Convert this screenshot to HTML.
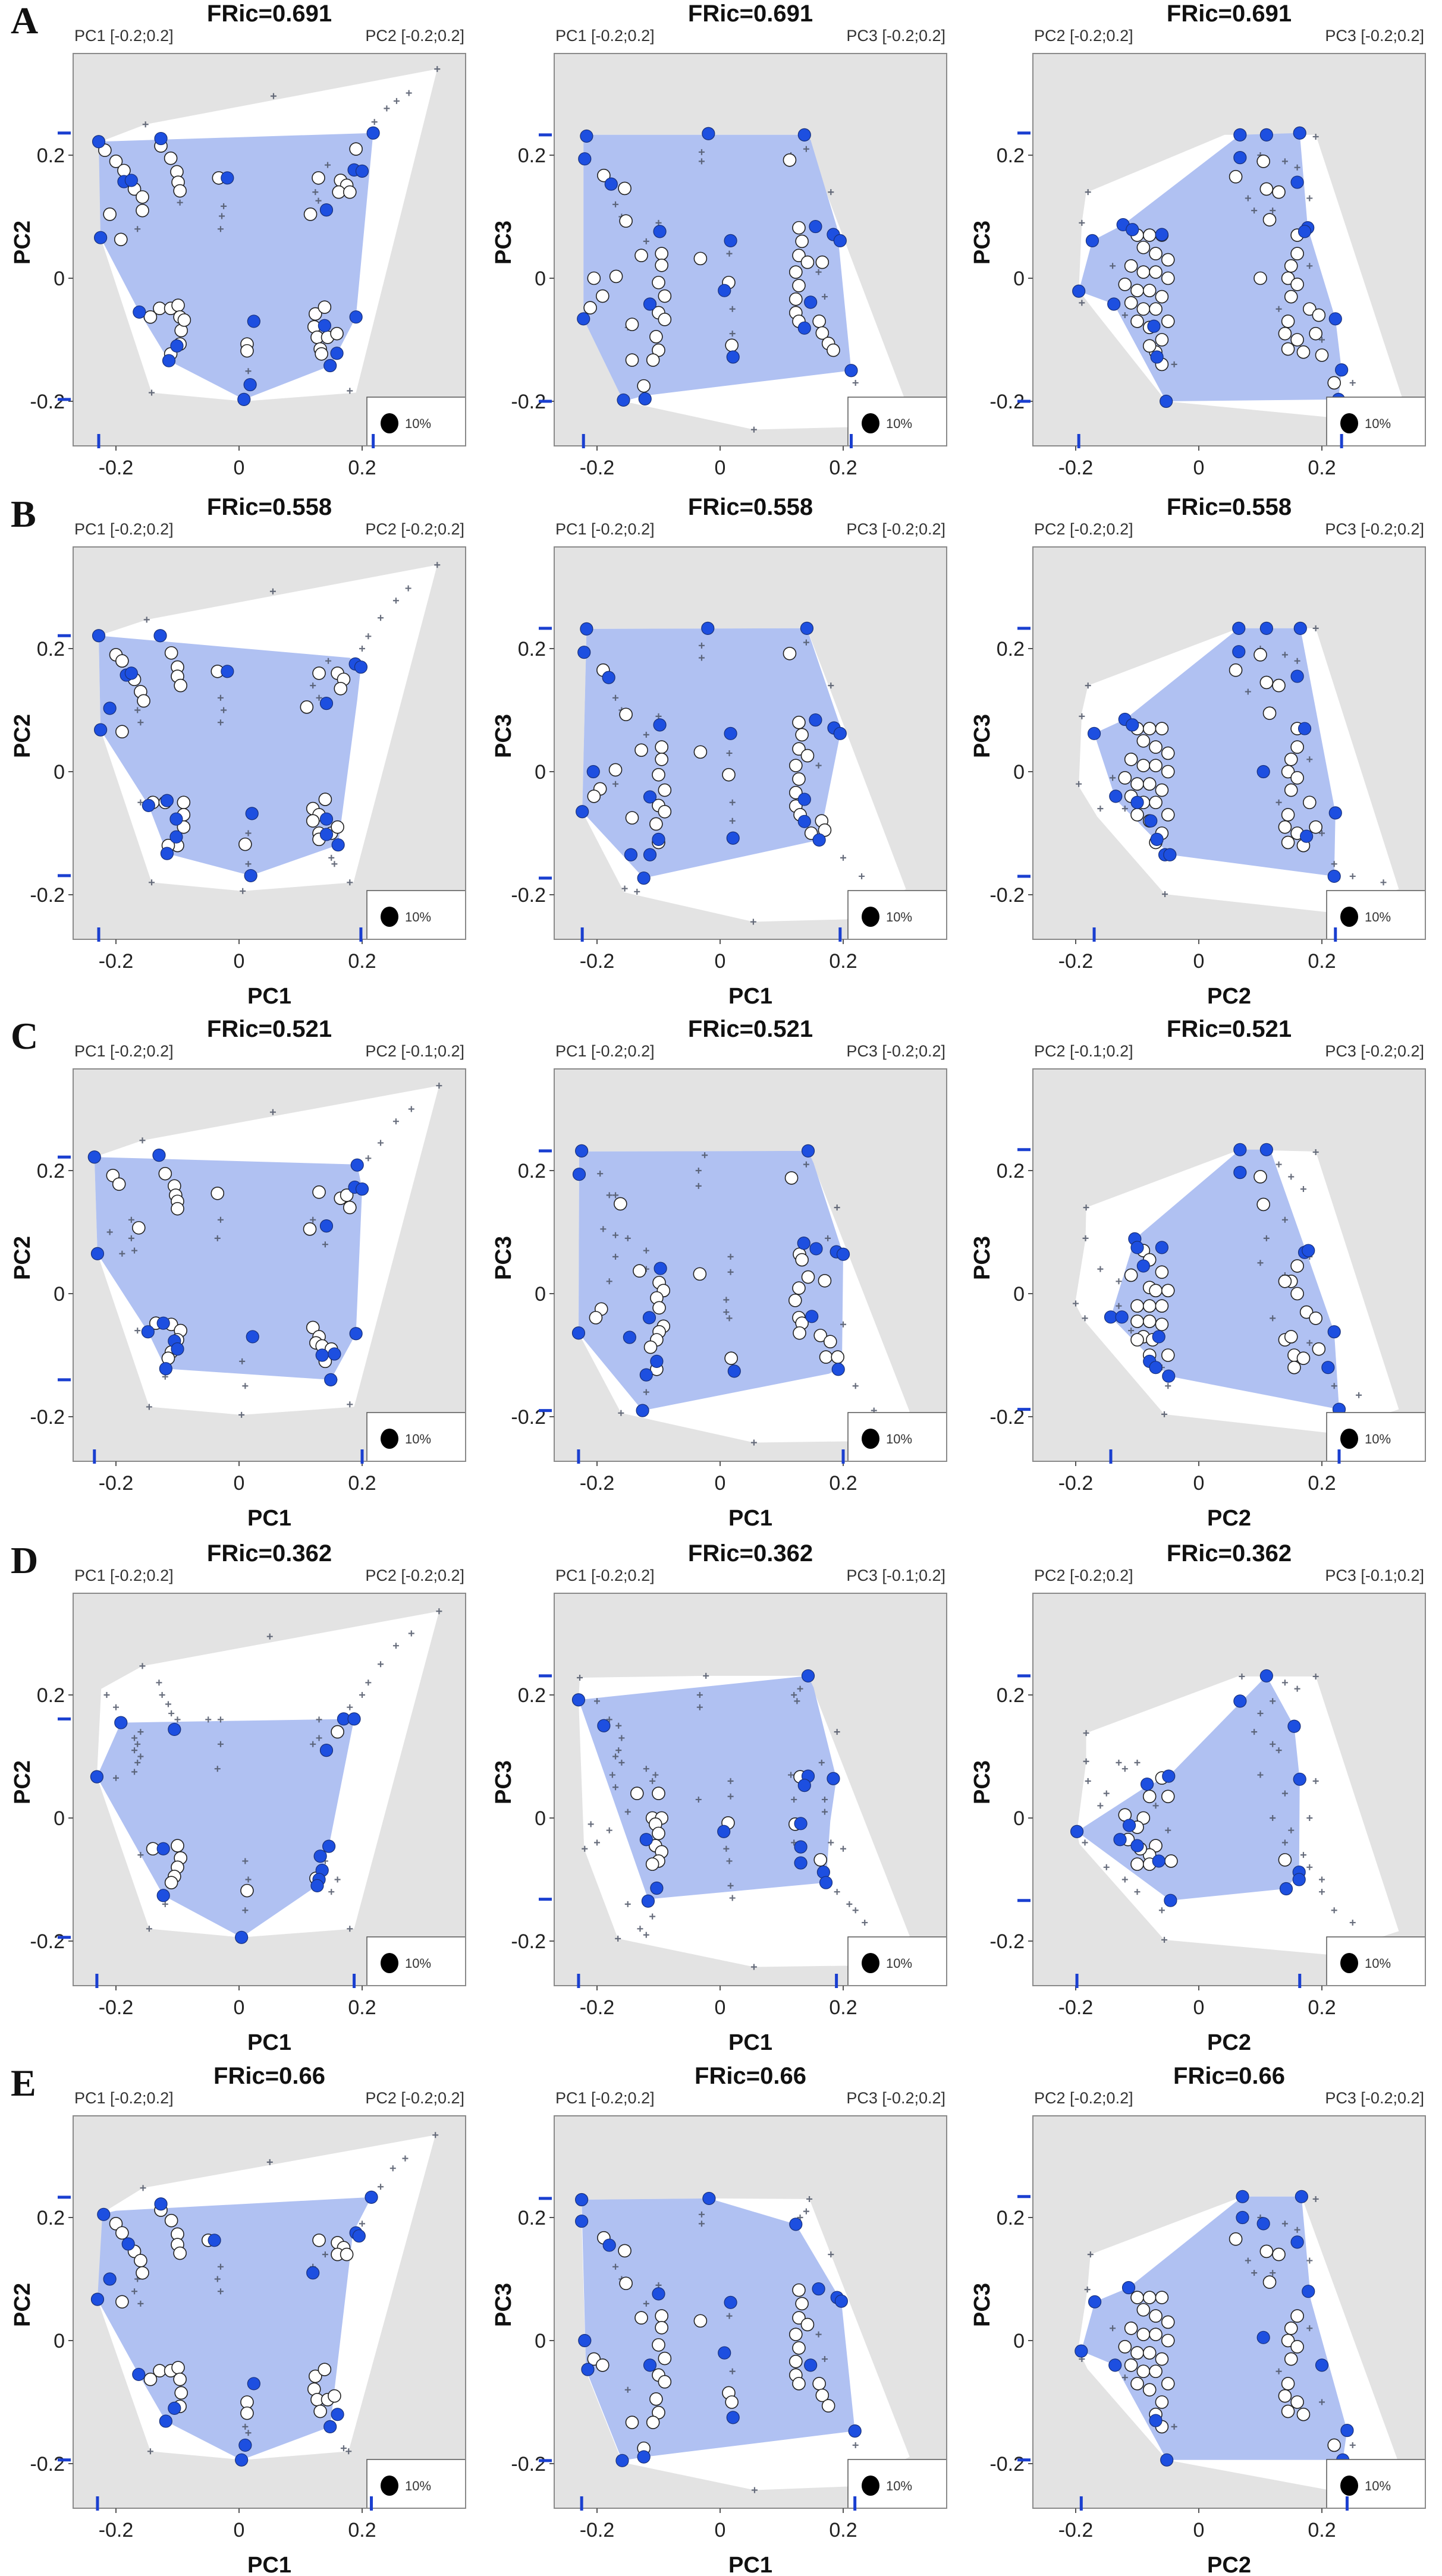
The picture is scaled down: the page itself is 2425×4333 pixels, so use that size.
<!DOCTYPE html>
<html><head><meta charset="utf-8"><title>FRic panels</title>
<style>
html,body{margin:0;padding:0;background:#fff;}
svg{display:block;}
text{font-family:"Liberation Sans",Arial,sans-serif;}
</style></head>
<body>
<svg id="fig" xmlns="http://www.w3.org/2000/svg" width="2425" height="4333" viewBox="0 0 2425 4333"></svg>
<script>
// ---------- DATA (PC coordinates) ----------
const rowLetters = ["A","B","C","D","E"];
const fricValues = ["0.691","0.558","0.521","0.362","0.66"];
const tickValues = [-0.2, 0, 0.2];
const tickLabels = ["-0.2","0","0.2"];

// Row A
const a1Outer=[[-0.225,0.222],[-0.152,0.25],[0.322,0.34],[0.19,-0.186],[0.008,-0.2],[-0.142,-0.186],[-0.225,0.066]];
const a1Hull=[[-0.228,0.222],[0.218,0.236],[0.19,-0.063],[0.149,-0.142],[0.008,-0.197],[-0.114,-0.134],[-0.162,-0.055],[-0.225,0.066]];
const a1Blue=[[-0.228,0.222],[-0.127,0.227],[-0.019,0.163],[-0.187,0.157],[-0.175,0.159],[0.218,0.236],[0.187,0.176],[0.2,0.174],[0.142,0.111],[-0.225,0.066],[-0.162,-0.055],[-0.101,-0.11],[-0.114,-0.134],[0.024,-0.07],[0.018,-0.173],[0.008,-0.197],[0.139,-0.077],[0.159,-0.122],[0.148,-0.142],[0.19,-0.063]];
const a1White=[[-0.218,0.208],[-0.2,0.19],[-0.187,0.175],[-0.17,0.145],[-0.157,0.132],[-0.157,0.11],[-0.21,0.104],[-0.192,0.063],[-0.127,0.215],[-0.111,0.195],[-0.101,0.173],[-0.099,0.156],[-0.096,0.142],[-0.033,0.163],[0.19,0.21],[0.129,0.163],[0.165,0.159],[0.175,0.151],[0.162,0.14],[0.18,0.14],[0.116,0.104],[-0.144,-0.063],[-0.129,-0.049],[-0.111,-0.049],[-0.099,-0.044],[-0.096,-0.063],[-0.094,-0.085],[-0.096,-0.107],[-0.111,-0.123],[-0.089,-0.068],[0.013,-0.107],[0.013,-0.118],[0.124,-0.058],[0.139,-0.047],[0.122,-0.079],[0.127,-0.096],[0.132,-0.115],[0.144,-0.096],[0.159,-0.09],[0.134,-0.123]];
const a1Cross=[[0.22,0.254],[0.24,0.276],[0.256,0.288],[0.276,0.301],[0.056,0.296],[-0.152,0.25],[0.322,0.34],[-0.028,0.101],[-0.03,0.08],[-0.025,0.117],[0.124,0.14],[0.129,0.126],[-0.165,0.08],[-0.142,-0.186],[0.18,-0.183],[0.015,-0.151],[-0.096,0.123],[0.144,0.184]];

const a2Outer=[[-0.222,0.233],[0.137,0.233],[0.301,-0.199],[0.29,-0.24],[0.055,-0.246],[-0.157,-0.2],[-0.222,-0.066]];
const a2Hull=[[-0.222,0.233],[0.137,0.233],[0.147,0.225],[0.19,0.082],[0.213,-0.15],[-0.124,-0.191],[-0.157,-0.2],[-0.222,-0.066]];
const a2Blue=[[-0.217,0.231],[-0.019,0.235],[0.137,0.233],[-0.22,0.194],[-0.177,0.153],[-0.098,0.076],[-0.114,-0.042],[0.017,0.061],[0.007,-0.02],[0.021,-0.128],[0.155,0.084],[0.184,0.071],[0.195,0.061],[0.147,-0.039],[0.137,-0.081],[0.213,-0.15],[-0.157,-0.198],[-0.122,-0.196],[-0.222,-0.066]];
const a2White=[[0.113,0.192],[-0.189,0.167],[-0.155,0.146],[-0.153,0.093],[-0.128,0.037],[-0.205,0],[-0.169,0.003],[-0.191,-0.029],[-0.211,-0.048],[-0.143,-0.075],[-0.143,-0.133],[-0.124,-0.175],[-0.095,0.04],[-0.095,0.021],[-0.1,-0.007],[-0.09,-0.029],[-0.1,-0.056],[-0.09,-0.067],[-0.104,-0.095],[-0.1,-0.117],[-0.109,-0.133],[-0.032,0.032],[0.014,-0.007],[0.019,-0.109],[0.128,0.082],[0.133,0.06],[0.128,0.037],[0.142,0.026],[0.123,0.01],[0.128,-0.012],[0.123,-0.034],[0.123,-0.056],[0.128,-0.07],[0.161,-0.07],[0.166,-0.089],[0.176,-0.106],[0.184,-0.117],[0.166,0.026]];
const a2Cross=[[-0.03,0.205],[-0.03,0.19],[0.14,0.21],[0.115,0.2],[0.18,0.14],[-0.17,0.12],[-0.16,0.1],[-0.15,-0.08],[0.015,0.04],[0.02,-0.05],[0.02,-0.09],[0.055,-0.246],[0.22,-0.17],[0.16,0.01],[0.17,-0.03],[0.25,-0.2],[-0.1,0.09],[-0.12,0.06]];

const a3Outer=[[-0.183,0.139],[0.042,0.233],[0.19,0.233],[0.332,-0.199],[0.212,-0.226],[-0.053,-0.2],[-0.168,-0.055],[-0.195,-0.02],[-0.19,0.09]];
const a3Hull=[[-0.173,0.061],[-0.123,0.087],[0.067,0.233],[0.164,0.236],[0.177,0.082],[0.222,-0.066],[0.232,-0.149],[0.227,-0.197],[-0.053,-0.2],[-0.138,-0.042],[-0.195,-0.021]];
const a3Blue=[[-0.173,0.061],[-0.123,0.087],[0.067,0.233],[0.11,0.233],[0.164,0.236],[0.177,0.082],[0.222,-0.066],[0.232,-0.149],[0.227,-0.197],[-0.053,-0.2],[-0.138,-0.042],[-0.195,-0.021],[0.067,0.196],[0.16,0.156],[-0.06,0.071],[-0.108,0.079],[-0.073,-0.078],[-0.068,-0.128],[0.172,0.076]];
const a3White=[[-0.1,0.07],[-0.08,0.07],[-0.06,0.07],[-0.09,0.05],[-0.07,0.04],[-0.05,0.03],[-0.11,0.02],[-0.09,0.01],[-0.07,0.01],[-0.05,0],[-0.12,-0.01],[-0.1,-0.02],[-0.08,-0.02],[-0.06,-0.03],[-0.11,-0.04],[-0.09,-0.05],[-0.07,-0.05],[-0.05,-0.07],[-0.1,-0.07],[-0.08,-0.08],[-0.06,-0.1],[-0.07,-0.12],[-0.06,-0.14],[-0.08,-0.11],[0.105,0.19],[0.06,0.165],[0.11,0.145],[0.13,0.14],[0.115,0.095],[0.16,0.07],[0.16,0.04],[0.15,0.02],[0.145,0],[0.1,0],[0.16,-0.01],[0.15,-0.03],[0.18,-0.05],[0.195,-0.06],[0.145,-0.07],[0.14,-0.09],[0.16,-0.1],[0.19,-0.09],[0.145,-0.115],[0.17,-0.12],[0.2,-0.125],[0.22,-0.17]];
const a3Cross=[[-0.18,0.14],[-0.19,0.09],[-0.19,-0.04],[0.19,0.23],[0.1,0.2],[0.14,0.19],[0.08,0.13],[0.09,0.11],[0.12,0.11],[0.16,0.18],[0.18,0.13],[0.2,-0.1],[0.25,-0.17],[0.28,-0.2],[-0.14,0.02],[-0.12,-0.06],[-0.04,-0.14],[0.13,-0.05],[0.18,0.02]];

// Row B
const b1Outer=[[-0.228,0.221],[-0.15,0.247],[0.322,0.336],[0.186,-0.18],[0.006,-0.194],[-0.142,-0.18],[-0.225,0.068]];
const b1Hull=[[-0.228,0.221],[0.18,0.185],[0.198,0.17],[0.192,0.116],[0.161,-0.119],[0.019,-0.169],[-0.117,-0.133],[-0.147,-0.055],[-0.225,0.068]];
const b1Blue=[[-0.228,0.221],[-0.128,0.221],[-0.019,0.163],[-0.183,0.157],[-0.175,0.16],[0.189,0.175],[0.198,0.17],[0.142,0.111],[-0.21,0.103],[-0.225,0.068],[-0.147,-0.055],[-0.117,-0.047],[-0.102,-0.077],[-0.102,-0.106],[-0.117,-0.133],[0.021,-0.068],[0.019,-0.169],[0.142,-0.077],[0.142,-0.102],[0.161,-0.119]];
const b1White=[[-0.2,0.19],[-0.19,0.18],[-0.17,0.15],[-0.16,0.13],[-0.155,0.115],[-0.19,0.065],[-0.11,0.193],[-0.1,0.17],[-0.1,0.155],[-0.095,0.14],[-0.035,0.163],[0.13,0.16],[0.16,0.16],[0.17,0.15],[0.165,0.135],[0.11,0.105],[-0.14,-0.05],[-0.12,-0.05],[-0.09,-0.05],[-0.09,-0.07],[-0.09,-0.09],[-0.1,-0.12],[-0.115,-0.12],[0.01,-0.118],[0.12,-0.06],[0.14,-0.045],[0.13,-0.07],[0.12,-0.08],[0.13,-0.1],[0.15,-0.1],[0.16,-0.09],[0.13,-0.11]];
const b1Cross=[[-0.15,0.247],[0.055,0.293],[0.322,0.336],[0.275,0.298],[0.255,0.278],[0.23,0.25],[0.21,0.22],[0.2,0.2],[0.145,0.18],[0.12,0.14],[0.13,0.12],[-0.03,0.12],[-0.025,0.1],[-0.03,0.08],[-0.16,0.12],[-0.16,0.08],[-0.165,0.1],[-0.16,-0.05],[0.015,-0.1],[0.015,-0.15],[0.006,-0.194],[-0.142,-0.18],[0.18,-0.18],[0.15,-0.14],[0.155,-0.15]];

const b2Outer=[[-0.217,0.232],[0.141,0.233],[0.302,-0.191],[0.205,-0.24],[0.054,-0.244],[-0.156,-0.196],[-0.224,-0.065]];
const b2Hull=[[-0.217,0.232],[0.141,0.233],[0.195,0.075],[0.195,0.06],[0.161,-0.111],[-0.124,-0.173],[-0.224,-0.065]];
const b2Blue=[[-0.217,0.232],[-0.02,0.233],[0.141,0.233],[-0.221,0.194],[-0.181,0.153],[-0.098,0.076],[-0.206,0],[-0.114,-0.041],[0.017,0.062],[0.021,-0.108],[0.155,0.084],[0.185,0.071],[0.195,0.062],[0.137,-0.045],[0.137,-0.081],[0.161,-0.111],[-0.145,-0.135],[-0.114,-0.135],[-0.124,-0.173],[-0.224,-0.065],[-0.1,-0.11]];
const b2White=[[0.113,0.192],[-0.19,0.165],[-0.153,0.093],[-0.128,0.035],[-0.17,0.003],[-0.195,-0.028],[-0.205,-0.04],[-0.143,-0.075],[-0.095,0.04],[-0.095,0.02],[-0.1,-0.005],[-0.09,-0.03],[-0.1,-0.055],[-0.09,-0.065],[-0.104,-0.085],[-0.1,-0.115],[-0.032,0.032],[0.014,-0.005],[0.128,0.08],[0.133,0.06],[0.128,0.037],[0.142,0.026],[0.123,0.01],[0.128,-0.012],[0.123,-0.034],[0.123,-0.056],[0.13,-0.07],[0.165,-0.08],[0.17,-0.095],[0.148,-0.1]];
const b2Cross=[[-0.03,0.205],[-0.03,0.185],[0.14,0.21],[0.18,0.14],[-0.17,0.12],[-0.16,0.1],[0.015,0.03],[0.02,-0.05],[0.02,-0.08],[0.054,-0.244],[0.23,-0.17],[0.2,-0.14],[0.16,0.01],[-0.155,-0.19],[-0.135,-0.195],[-0.17,-0.02],[0.25,-0.2],[-0.1,0.09],[-0.12,0.06]];

const b3Outer=[[-0.18,0.14],[0.065,0.233],[0.19,0.233],[0.325,-0.191],[0.215,-0.229],[-0.055,-0.199],[-0.165,-0.073],[-0.195,-0.024],[-0.19,0.096]];
const b3Hull=[[-0.17,0.062],[-0.12,0.085],[0.065,0.233],[0.165,0.233],[0.222,-0.067],[0.22,-0.17],[-0.047,-0.135],[-0.135,-0.045]];
const b3Blue=[[0.065,0.233],[0.11,0.233],[0.165,0.233],[0.065,0.195],[0.16,0.155],[0.172,0.07],[0.222,-0.067],[0.175,-0.105],[0.22,-0.17],[0.105,0],[-0.17,0.062],[-0.12,0.085],[-0.108,0.076],[-0.135,-0.04],[-0.1,-0.05],[-0.078,-0.08],[-0.068,-0.11],[-0.055,-0.135],[-0.047,-0.135]];
const b3White=[[-0.1,0.07],[-0.08,0.07],[-0.06,0.07],[-0.09,0.05],[-0.07,0.04],[-0.05,0.03],[-0.11,0.02],[-0.09,0.01],[-0.07,0.01],[-0.05,0],[-0.12,-0.01],[-0.1,-0.02],[-0.08,-0.02],[-0.06,-0.03],[-0.11,-0.04],[-0.09,-0.05],[-0.07,-0.05],[-0.05,-0.07],[-0.1,-0.07],[-0.08,-0.08],[-0.06,-0.1],[-0.07,-0.115],[0.1,0.19],[0.06,0.165],[0.11,0.145],[0.13,0.14],[0.115,0.095],[0.16,0.07],[0.16,0.04],[0.15,0.02],[0.145,0],[0.16,-0.01],[0.15,-0.03],[0.18,-0.05],[0.145,-0.07],[0.14,-0.09],[0.16,-0.1],[0.19,-0.09],[0.145,-0.115],[0.17,-0.12]];
const b3Cross=[[-0.18,0.14],[-0.19,0.09],[-0.195,-0.02],[-0.16,-0.06],[0.19,0.233],[0.1,0.2],[0.14,0.19],[0.08,0.13],[0.12,0.1],[0.16,0.18],[0.2,-0.1],[0.25,-0.17],[0.22,-0.15],[-0.055,-0.199],[-0.14,-0.01],[-0.12,-0.06],[0.13,-0.05],[0.18,0.02],[0.3,-0.18]];

// Row C
const c1Outer=[[-0.235,0.222],[-0.157,0.249],[0.325,0.338],[0.187,-0.184],[0.004,-0.197],[-0.146,-0.184],[-0.23,0.065]];
const c1Hull=[[-0.235,0.222],[0.192,0.21],[0.2,0.17],[0.19,-0.065],[0.149,-0.14],[-0.119,-0.122],[-0.148,-0.062],[-0.23,0.065]];
const c1Blue=[[-0.235,0.222],[-0.13,0.225],[0.192,0.209],[0.188,0.173],[0.2,0.17],[0.142,0.11],[-0.23,0.065],[-0.148,-0.062],[-0.123,-0.048],[-0.105,-0.077],[-0.1,-0.09],[-0.119,-0.122],[0.022,-0.07],[0.19,-0.065],[0.135,-0.1],[0.155,-0.098],[0.149,-0.14]];
const c1White=[[-0.205,0.192],[-0.195,0.178],[-0.12,0.195],[-0.105,0.175],[-0.103,0.16],[-0.1,0.15],[-0.1,0.138],[-0.163,0.107],[-0.035,0.163],[0.13,0.165],[0.165,0.155],[0.175,0.16],[0.18,0.14],[0.115,0.105],[-0.135,-0.048],[-0.11,-0.05],[-0.095,-0.06],[-0.1,-0.075],[-0.11,-0.095],[-0.115,-0.105],[0.12,-0.055],[0.13,-0.07],[0.125,-0.08],[0.135,-0.085],[0.15,-0.09],[0.14,-0.11]];
const c1Cross=[[-0.157,0.249],[0.055,0.295],[0.325,0.338],[0.28,0.3],[0.255,0.28],[0.23,0.245],[0.21,0.22],[-0.21,0.1],[-0.175,0.09],[-0.17,0.07],[-0.19,0.065],[-0.175,0.12],[-0.03,0.12],[-0.035,0.09],[0.12,0.12],[0.14,0.08],[0.005,-0.11],[0.01,-0.15],[0.004,-0.197],[-0.146,-0.184],[0.18,-0.18],[-0.12,-0.135],[0.155,-0.14],[-0.165,-0.06]];

const c2Outer=[[-0.229,0.231],[0.143,0.232],[0.308,-0.192],[0.211,-0.24],[0.055,-0.242],[-0.161,-0.194],[-0.23,-0.064]];
const c2Hull=[[-0.229,0.231],[0.143,0.232],[0.152,0.212],[0.2,0.064],[0.198,-0.12],[0.177,-0.13],[-0.126,-0.19],[-0.23,-0.064]];
const c2Blue=[[-0.225,0.232],[0.143,0.232],[-0.229,0.194],[-0.097,0.041],[-0.115,-0.039],[-0.147,-0.071],[-0.103,-0.11],[-0.12,-0.132],[-0.126,-0.19],[0.023,-0.126],[0.136,0.082],[0.156,0.073],[0.189,0.068],[0.2,0.064],[0.149,-0.037],[0.192,-0.123],[-0.23,-0.064]];
const c2White=[[0.116,0.188],[-0.162,0.146],[-0.131,0.037],[-0.033,0.032],[-0.193,-0.025],[-0.202,-0.039],[-0.099,0.018],[-0.092,0.005],[-0.103,-0.007],[-0.099,-0.023],[-0.092,-0.053],[-0.099,-0.062],[-0.103,-0.075],[-0.113,-0.087],[-0.103,-0.123],[0.018,-0.105],[0.129,0.064],[0.133,0.055],[0.143,0.027],[0.17,0.021],[0.128,0.009],[0.122,-0.011],[0.128,-0.039],[0.133,-0.048],[0.129,-0.064],[0.163,-0.068],[0.179,-0.078],[0.172,-0.103],[0.191,-0.103]];
const c2Cross=[[-0.025,0.225],[-0.035,0.2],[-0.035,0.175],[-0.195,0.195],[-0.18,0.16],[-0.17,0.16],[-0.19,0.105],[-0.17,0.095],[-0.15,0.09],[-0.17,0.06],[-0.18,0.02],[-0.2,-0.045],[-0.12,0.07],[-0.12,0.04],[0.017,0.06],[0.017,0.035],[0.01,-0.01],[0.01,-0.03],[0.015,-0.04],[0.19,0.14],[0.175,0.09],[0.2,-0.05],[0.22,-0.15],[0.25,-0.19],[0.055,-0.242],[-0.161,-0.194],[0.14,0.21],[-0.12,-0.16]];

const c3Outer=[[-0.183,0.14],[0.067,0.234],[0.19,0.231],[0.325,-0.188],[0.209,-0.226],[-0.056,-0.196],[-0.187,-0.043],[-0.201,-0.016],[-0.184,0.089]];
const c3Hull=[[-0.104,0.089],[0.067,0.234],[0.116,0.234],[0.175,0.067],[0.22,-0.062],[0.228,-0.188],[-0.049,-0.134],[-0.143,-0.038]];
const c3Blue=[[0.067,0.234],[0.11,0.234],[0.067,0.197],[0.172,0.067],[0.178,0.07],[0.22,-0.062],[0.21,-0.12],[0.228,-0.188],[-0.104,0.089],[-0.1,0.075],[-0.06,0.075],[-0.09,0.045],[-0.143,-0.038],[-0.125,-0.038],[-0.065,-0.07],[-0.08,-0.11],[-0.07,-0.12],[-0.049,-0.134]];
const c3White=[[0.1,0.19],[0.105,0.145],[-0.09,0.07],[-0.08,0.055],[-0.06,0.035],[-0.11,0.03],[-0.08,0.01],[-0.07,0.005],[-0.05,0.005],[-0.1,-0.02],[-0.08,-0.02],[-0.06,-0.02],[-0.1,-0.045],[-0.08,-0.045],[-0.06,-0.05],[-0.09,-0.07],[-0.075,-0.075],[-0.1,-0.075],[-0.05,-0.1],[-0.08,-0.1],[0.16,0.045],[0.15,0.02],[0.14,0.02],[0.16,0],[0.175,-0.03],[0.19,-0.04],[0.14,-0.075],[0.15,-0.07],[0.195,-0.09],[0.155,-0.1],[0.17,-0.105],[0.155,-0.12]];
const c3Cross=[[-0.183,0.14],[-0.184,0.09],[-0.2,-0.016],[-0.185,-0.04],[-0.16,0.04],[-0.13,0.02],[0.13,0.21],[0.15,0.19],[0.17,0.17],[0.19,0.23],[0.14,0.12],[0.11,0.09],[0.1,0.05],[0.14,0.03],[0.12,-0.04],[0.18,-0.08],[0.22,-0.15],[0.26,-0.165],[0.24,-0.2],[-0.056,-0.196],[-0.05,-0.15],[0.18,0.06],[-0.13,-0.02],[-0.11,-0.06],[-0.06,-0.12]];

// Row D
const d1Outer=[[-0.224,0.21],[-0.157,0.247],[0.325,0.336],[0.187,-0.18],[0.004,-0.194],[-0.146,-0.18],[-0.231,0.067]];
const d1Hull=[[-0.192,0.155],[0.187,0.161],[0.146,-0.046],[0.127,-0.11],[0.004,-0.194],[-0.123,-0.126],[-0.231,0.067]];
const d1Blue=[[-0.192,0.155],[-0.105,0.144],[0.17,0.161],[0.187,0.161],[0.142,0.11],[-0.231,0.067],[-0.123,-0.05],[-0.123,-0.126],[0.004,-0.194],[0.146,-0.046],[0.132,-0.062],[0.135,-0.085],[0.13,-0.1],[0.127,-0.11]];
const d1White=[[0.16,0.14],[-0.14,-0.05],[-0.1,-0.045],[-0.095,-0.065],[-0.1,-0.08],[-0.105,-0.095],[-0.11,-0.105],[0.013,-0.118],[0.125,-0.098]];
const d1Cross=[[-0.157,0.247],[0.05,0.295],[0.325,0.336],[0.28,0.3],[0.255,0.28],[0.23,0.25],[0.21,0.22],[0.2,0.2],[0.18,0.18],[-0.215,0.2],[-0.2,0.18],[-0.13,0.22],[-0.125,0.2],[-0.115,0.185],[-0.11,0.17],[-0.1,0.16],[-0.05,0.16],[-0.03,0.16],[-0.03,0.12],[-0.035,0.08],[-0.17,0.13],[-0.165,0.12],[-0.16,0.1],[-0.17,0.11],[-0.165,0.09],[-0.17,0.075],[-0.2,0.065],[0.13,0.16],[0.12,0.12],[0.13,0.13],[-0.16,-0.06],[0.01,-0.07],[0.01,-0.15],[0.015,-0.1],[0.004,-0.194],[-0.146,-0.18],[0.18,-0.18],[0.16,-0.1],[0.15,-0.12],[0.14,-0.07],[-0.12,-0.14],[-0.16,0.14]];

const d2Outer=[[-0.228,0.228],[-0.023,0.231],[0.143,0.231],[0.149,0.215],[0.308,-0.192],[0.211,-0.24],[0.055,-0.242],[-0.166,-0.196],[-0.221,-0.05],[-0.23,0.192]];
const d2Hull=[[-0.23,0.192],[0.143,0.231],[0.152,0.212],[0.189,0.064],[0.179,-0.005],[0.172,-0.105],[-0.117,-0.132]];
const d2Blue=[[-0.23,0.192],[-0.189,0.15],[0.143,0.231],[0.143,0.068],[0.137,0.053],[0.184,0.064],[0.131,-0.009],[0.131,-0.047],[0.131,-0.073],[0.168,-0.088],[0.172,-0.105],[-0.12,-0.035],[-0.103,-0.114],[-0.117,-0.135],[0.006,-0.022]];
const d2White=[[-0.135,0.04],[-0.1,0.04],[-0.11,0],[-0.095,0],[-0.105,-0.01],[-0.1,-0.025],[-0.105,-0.045],[-0.095,-0.055],[-0.1,-0.07],[-0.11,-0.075],[0.013,-0.008],[0.13,0.067],[0.122,-0.01],[0.163,-0.068]];
const d2Cross=[[-0.228,0.228],[-0.023,0.231],[-0.033,0.2],[-0.033,0.18],[0.12,0.2],[0.125,0.19],[0.13,0.21],[-0.2,0.19],[-0.18,0.16],[-0.165,0.15],[-0.16,0.13],[-0.165,0.11],[-0.17,0.1],[-0.16,0.09],[-0.175,0.07],[-0.17,0.05],[-0.12,0.08],[-0.11,0.06],[-0.105,0.07],[-0.21,-0.01],[-0.18,-0.02],[-0.2,-0.04],[-0.22,-0.05],[-0.15,0.01],[0.017,0.06],[0.017,0.035],[-0.035,0.03],[0.01,-0.05],[0.015,-0.07],[0.017,-0.11],[0.02,-0.13],[0.19,0.14],[0.165,0.09],[0.17,0.03],[0.17,0.01],[0.18,-0.04],[0.2,-0.05],[0.19,-0.12],[0.21,-0.14],[0.22,-0.15],[0.235,-0.17],[0.055,-0.242],[-0.166,-0.196],[-0.13,-0.18],[-0.12,-0.19],[-0.15,-0.14],[-0.11,-0.16],[0.115,0.07],[0.12,0.03],[0.12,-0.04]];

const d3Outer=[[-0.183,0.138],[0.063,0.23],[0.19,0.23],[0.325,-0.184],[0.209,-0.222],[-0.056,-0.198],[-0.194,-0.042],[-0.198,-0.023],[-0.183,0.092]];
const d3Hull=[[-0.198,-0.022],[-0.084,0.052],[-0.049,0.068],[0.11,0.231],[0.155,0.149],[0.164,0.063],[0.163,-0.088],[0.142,-0.115],[-0.046,-0.134]];
const d3Blue=[[-0.198,-0.022],[-0.084,0.055],[-0.049,0.068],[0.11,0.231],[0.067,0.19],[0.155,0.149],[0.164,0.063],[0.163,-0.088],[0.163,-0.1],[0.142,-0.115],[-0.046,-0.134],[-0.065,-0.07],[-0.1,-0.045],[-0.113,-0.012],[-0.128,-0.035]];
const d3White=[[-0.06,0.065],[-0.08,0.035],[-0.05,0.035],[-0.12,0.005],[-0.09,0],[-0.1,-0.015],[-0.115,-0.035],[-0.07,-0.045],[-0.08,-0.06],[-0.1,-0.075],[-0.08,-0.075],[-0.045,-0.07],[0.14,-0.068],[-0.095,-0.05]];
const d3Cross=[[-0.183,0.138],[-0.183,0.092],[-0.18,0.06],[-0.13,0.09],[-0.12,0.08],[-0.1,0.09],[-0.15,0.04],[-0.16,0.02],[-0.185,-0.04],[-0.15,-0.08],[-0.12,-0.1],[-0.1,-0.12],[0.07,0.23],[0.14,0.22],[0.16,0.21],[0.19,0.23],[0.12,0.19],[0.1,0.17],[0.09,0.14],[0.12,0.12],[0.13,0.11],[0.1,0.07],[0.14,0.04],[0.12,0],[0.15,-0.02],[0.14,-0.04],[0.17,-0.06],[0.18,-0.08],[0.2,-0.12],[0.22,-0.15],[0.25,-0.17],[0.27,-0.2],[0.2,-0.1],[-0.056,-0.198],[-0.06,-0.15],[0.19,0.06],[0.18,0],[-0.07,0.02],[-0.05,-0.02]];

// Row E
const e1Outer=[[-0.218,0.21],[-0.156,0.248],[0.319,0.334],[0.178,-0.18],[0.007,-0.194],[-0.144,-0.18],[-0.23,0.067]];
const e1Hull=[[-0.222,0.206],[-0.2,0.211],[0.215,0.233],[0.185,0.175],[0.148,-0.14],[0.004,-0.194],[-0.119,-0.131],[-0.163,-0.055],[-0.23,0.067]];
const e1Blue=[[-0.22,0.205],[-0.127,0.222],[-0.04,0.163],[-0.18,0.157],[0.215,0.233],[0.19,0.175],[0.195,0.17],[0.12,0.11],[-0.21,0.1],[-0.23,0.067],[-0.163,-0.055],[-0.105,-0.11],[-0.119,-0.131],[0.024,-0.07],[0.01,-0.17],[0.004,-0.194],[0.16,-0.12],[0.148,-0.14]];
const e1White=[[-0.2,0.19],[-0.19,0.175],[-0.17,0.145],[-0.16,0.13],[-0.157,0.11],[-0.19,0.063],[-0.127,0.212],[-0.11,0.195],[-0.1,0.173],[-0.1,0.156],[-0.096,0.142],[-0.05,0.163],[0.13,0.163],[0.16,0.159],[0.17,0.151],[0.16,0.14],[0.175,0.14],[-0.144,-0.063],[-0.129,-0.049],[-0.111,-0.049],[-0.099,-0.044],[-0.096,-0.063],[-0.094,-0.085],[-0.096,-0.107],[0.013,-0.1],[0.013,-0.118],[0.124,-0.058],[0.139,-0.047],[0.122,-0.079],[0.127,-0.096],[0.132,-0.115],[0.144,-0.096],[0.155,-0.09]];
const e1Cross=[[-0.156,0.248],[0.05,0.29],[0.319,0.334],[0.27,0.296],[0.25,0.28],[0.23,0.25],[0.22,0.23],[0.2,0.19],[0.14,0.14],[0.12,0.12],[-0.03,0.12],[-0.035,0.1],[-0.03,0.08],[-0.17,0.08],[-0.165,0.1],[-0.16,0.06],[0.01,-0.14],[0.015,-0.15],[0.007,-0.194],[-0.144,-0.18],[0.178,-0.18],[0.17,-0.175]];

const e2Outer=[[-0.225,0.229],[-0.018,0.231],[0.145,0.23],[0.308,-0.189],[0.212,-0.237],[0.056,-0.243],[-0.159,-0.198],[-0.218,-0.05],[-0.225,0.194]];
const e2Hull=[[-0.225,0.229],[-0.018,0.231],[0.123,0.189],[0.197,0.064],[0.219,-0.147],[-0.121,-0.189],[-0.159,-0.195],[-0.218,-0.047]];
const e2Blue=[[-0.225,0.229],[-0.018,0.231],[0.123,0.189],[-0.225,0.194],[-0.18,0.155],[-0.1,0.076],[-0.22,0],[-0.215,-0.047],[-0.114,-0.04],[0.017,0.062],[0.007,-0.02],[0.021,-0.125],[0.16,0.084],[0.19,0.07],[0.197,0.064],[0.147,-0.04],[0.219,-0.147],[-0.159,-0.195],[-0.124,-0.189]];
const e2White=[[-0.189,0.167],[-0.155,0.146],[-0.153,0.093],[-0.128,0.037],[-0.205,-0.03],[-0.191,-0.04],[-0.143,-0.133],[-0.124,-0.175],[-0.095,0.04],[-0.095,0.021],[-0.1,-0.007],[-0.09,-0.029],[-0.1,-0.056],[-0.09,-0.067],[-0.104,-0.095],[-0.1,-0.117],[-0.109,-0.133],[-0.032,0.032],[0.014,-0.085],[0.019,-0.1],[0.128,0.082],[0.133,0.06],[0.128,0.037],[0.142,0.026],[0.123,0.01],[0.128,-0.012],[0.123,-0.034],[0.123,-0.056],[0.128,-0.07],[0.161,-0.07],[0.166,-0.089],[0.176,-0.106]];
const e2Cross=[[-0.03,0.205],[-0.03,0.19],[0.145,0.23],[0.14,0.21],[0.13,0.2],[0.18,0.14],[-0.17,0.12],[-0.16,0.1],[-0.15,-0.08],[0.015,0.04],[0.02,-0.05],[0.056,-0.243],[0.22,-0.17],[0.16,0.01],[0.17,-0.03],[0.25,-0.2],[-0.1,0.09],[-0.12,0.06]];

const e3Outer=[[-0.176,0.14],[0.071,0.234],[0.167,0.234],[0.323,-0.194],[0.212,-0.243],[-0.052,-0.194],[-0.181,-0.046],[-0.196,-0.014],[-0.181,0.083]];
const e3Hull=[[-0.169,0.063],[-0.114,0.086],[0.071,0.234],[0.167,0.234],[0.182,0.066],[0.241,-0.146],[0.234,-0.194],[-0.052,-0.194],[-0.136,-0.04],[-0.191,-0.017]];
const e3Blue=[[0.071,0.234],[0.167,0.234],[0.071,0.2],[0.105,0.19],[0.16,0.16],[0.178,0.08],[0.105,0.005],[0.2,-0.04],[0.241,-0.146],[0.234,-0.194],[-0.052,-0.194],[-0.169,0.063],[-0.114,0.086],[-0.136,-0.04],[-0.191,-0.017],[-0.07,-0.13]];
const e3White=[[-0.1,0.07],[-0.08,0.07],[-0.06,0.07],[-0.09,0.05],[-0.07,0.04],[-0.05,0.03],[-0.11,0.02],[-0.09,0.01],[-0.07,0.01],[-0.05,0],[-0.12,-0.01],[-0.1,-0.02],[-0.08,-0.02],[-0.06,-0.03],[-0.11,-0.04],[-0.09,-0.05],[-0.07,-0.05],[-0.05,-0.07],[-0.1,-0.07],[-0.08,-0.08],[-0.06,-0.1],[-0.07,-0.12],[-0.06,-0.14],[0.06,0.165],[0.11,0.145],[0.13,0.14],[0.115,0.095],[0.16,0.04],[0.15,0.02],[0.145,0],[0.16,-0.01],[0.15,-0.03],[0.145,-0.07],[0.14,-0.09],[0.16,-0.1],[0.145,-0.115],[0.17,-0.12],[0.22,-0.17]];
const e3Cross=[[-0.176,0.14],[-0.181,0.083],[-0.19,-0.03],[0.19,0.23],[0.1,0.2],[0.14,0.19],[0.08,0.13],[0.09,0.11],[0.12,0.11],[0.16,0.18],[0.18,0.13],[0.2,-0.1],[0.25,-0.17],[0.28,-0.2],[-0.14,0.02],[-0.12,-0.06],[-0.04,-0.14],[0.13,-0.05],[0.18,0.02]];

// ---------- LAYOUT ----------
const panels = [
 {r:0,c:0,o:a1Outer,h:a1Hull,b:a1Blue,w:a1White,x:a1Cross,tl:"PC1 [-0.2;0.2]",tr:"PC2 [-0.2;0.2]"},
 {r:0,c:1,o:a2Outer,h:a2Hull,b:a2Blue,w:a2White,x:a2Cross,tl:"PC1 [-0.2;0.2]",tr:"PC3 [-0.2;0.2]"},
 {r:0,c:2,o:a3Outer,h:a3Hull,b:a3Blue,w:a3White,x:a3Cross,tl:"PC2 [-0.2;0.2]",tr:"PC3 [-0.2;0.2]"},
 {r:1,c:0,o:b1Outer,h:b1Hull,b:b1Blue,w:b1White,x:b1Cross,tl:"PC1 [-0.2;0.2]",tr:"PC2 [-0.2;0.2]"},
 {r:1,c:1,o:b2Outer,h:b2Hull,b:b2Blue,w:b2White,x:b2Cross,tl:"PC1 [-0.2;0.2]",tr:"PC3 [-0.2;0.2]"},
 {r:1,c:2,o:b3Outer,h:b3Hull,b:b3Blue,w:b3White,x:b3Cross,tl:"PC2 [-0.2;0.2]",tr:"PC3 [-0.2;0.2]"},
 {r:2,c:0,o:c1Outer,h:c1Hull,b:c1Blue,w:c1White,x:c1Cross,tl:"PC1 [-0.2;0.2]",tr:"PC2 [-0.1;0.2]"},
 {r:2,c:1,o:c2Outer,h:c2Hull,b:c2Blue,w:c2White,x:c2Cross,tl:"PC1 [-0.2;0.2]",tr:"PC3 [-0.2;0.2]"},
 {r:2,c:2,o:c3Outer,h:c3Hull,b:c3Blue,w:c3White,x:c3Cross,tl:"PC2 [-0.1;0.2]",tr:"PC3 [-0.2;0.2]"},
 {r:3,c:0,o:d1Outer,h:d1Hull,b:d1Blue,w:d1White,x:d1Cross,tl:"PC1 [-0.2;0.2]",tr:"PC2 [-0.2;0.2]"},
 {r:3,c:1,o:d2Outer,h:d2Hull,b:d2Blue,w:d2White,x:d2Cross,tl:"PC1 [-0.2;0.2]",tr:"PC3 [-0.1;0.2]"},
 {r:3,c:2,o:d3Outer,h:d3Hull,b:d3Blue,w:d3White,x:d3Cross,tl:"PC2 [-0.2;0.2]",tr:"PC3 [-0.1;0.2]"},
 {r:4,c:0,o:e1Outer,h:e1Hull,b:e1Blue,w:e1White,x:e1Cross,tl:"PC1 [-0.2;0.2]",tr:"PC2 [-0.2;0.2]"},
 {r:4,c:1,o:e2Outer,h:e2Hull,b:e2Blue,w:e2White,x:e2Cross,tl:"PC1 [-0.2;0.2]",tr:"PC3 [-0.2;0.2]"},
 {r:4,c:2,o:e3Outer,h:e3Hull,b:e3Blue,w:e3White,x:e3Cross,tl:"PC2 [-0.2;0.2]",tr:"PC3 [-0.2;0.2]"}
];
const colLeft=[123,932,1737];
const rowTop=[90,920,1798,2680,3559];
const xTitles=["PC1","PC1","PC2"];
const yTitles=["PC2","PC3","PC3"];
const SIZE=660, K=1035, X0=279, Y0=378;

const NS="http://www.w3.org/2000/svg";
const svg=document.getElementById('fig');
function mk(tag,attrs,parent){const e=document.createElementNS(NS,tag);for(const k in attrs)e.setAttribute(k,attrs[k]);(parent||svg).appendChild(e);return e;}
function txt(s,attrs,parent){const e=mk('text',attrs,parent);e.textContent=s;return e;}

panels.forEach((p,i)=>{
  const L=colLeft[p.c], T=rowTop[p.r];
  const sx=v=>L+X0+v*K, sy=v=>T+Y0-v*K;
  const g=mk('g',{});
  
  
  const cp=mk('clipPath',{id:'clip'+i},g);
  mk('rect',{x:L,y:T,width:SIZE,height:SIZE},cp);
  const bg=mk('rect',{x:L,y:T,width:SIZE,height:SIZE,fill:'#e3e3e3'},g);
  
  
  const inner=mk('g',{'clip-path':'url(#clip'+i+')'},g);
  const pts=a=>a.map(q=>sx(q[0]).toFixed(1)+','+sy(q[1]).toFixed(1)).join(' ');
  const outer=mk('polygon',{points:pts(p.o),fill:'#ffffff'},inner);
  
  
  const hull=mk('polygon',{points:pts(p.h),fill:'#b0c1f2'},inner);
  
  
  p.x.forEach(q=>{
    const cx=sx(q[0]),cy=sy(q[1]);
    const cr=mk('path',{d:`M${cx-5} ${cy}h10M${cx} ${cy-5}v10`,stroke:'#4d5566','stroke-width':2.2,'stroke-opacity':0.85},inner);
    
    
  });
  p.w.forEach(q=>{
    const c=mk('circle',{cx:sx(q[0]),cy:sy(q[1]),r:10.5,fill:'#ffffff',stroke:'#222','stroke-width':1.6},inner);
    
    
  });
  p.b.forEach(q=>{
    const c=mk('circle',{cx:sx(q[0]),cy:sy(q[1]),r:10.5,fill:'#1d4fe0',stroke:'#18307a','stroke-width':1.2},inner);
    
    
  });
  const lg=mk('g',{},g);
  
  
  mk('rect',{x:L+SIZE-166,y:T+SIZE-82,width:166,height:82,fill:'#fff',stroke:'#555','stroke-width':1.5},lg);
  mk('ellipse',{cx:L+SIZE-128,cy:T+SIZE-38,rx:15,ry:17,fill:'#000'},lg);
  txt('10%',{x:L+SIZE-102,y:T+SIZE-30,'font-size':22,fill:'#333'},lg);
  mk('rect',{x:L,y:T,width:SIZE,height:SIZE,fill:'none',stroke:'#8a8a8a','stroke-width':2},g);
  tickValues.forEach((v,k)=>{
    mk('line',{x1:L-8,x2:L,y1:sy(v),y2:sy(v),stroke:'#555','stroke-width':2},g);
    const yl=txt(tickLabels[k],{x:L-14,y:sy(v)+12,'font-size':34,'text-anchor':'end',fill:'#222'},g);
    
    
    mk('line',{x1:sx(v),x2:sx(v),y1:T+SIZE,y2:T+SIZE+8,stroke:'#555','stroke-width':2},g);
    const xl=txt(tickLabels[k],{x:sx(v),y:T+SIZE+48,'font-size':34,'text-anchor':'middle',fill:'#222'},g);
    
    
  });
  const hx=p.h.map(q=>q[0]), hy=p.h.map(q=>q[1]);
  [Math.max(...hy),Math.min(...hy)].forEach(v=>{
    const m=mk('line',{x1:L-26,x2:L-4,y1:sy(v),y2:sy(v),stroke:'#1a3fd0','stroke-width':5},g);
    
    
  });
  [Math.min(...hx),Math.max(...hx)].forEach(v=>{
    const m=mk('line',{x1:sx(v),x2:sx(v),y1:T+SIZE-20,y2:T+SIZE+4,stroke:'#1a3fd0','stroke-width':5},g);
    
    
  });
  const t=txt('FRic='+fricValues[p.r],{x:L+330,y:T-54,'font-size':40,'font-weight':'bold','text-anchor':'middle',fill:'#111'},g);
  
  
  const tl=txt(p.tl,{x:L+2,y:T-21,'font-size':27,fill:'#333'},g);
  
  
  const tr=txt(p.tr,{x:L+SIZE-2,y:T-21,'font-size':27,'text-anchor':'end',fill:'#333'},g);
  
  
  const yt=txt(yTitles[p.c],{x:0,y:0,'font-size':38,'font-weight':'bold','text-anchor':'middle',fill:'#111',transform:`translate(${L-73},${T+Y0-60}) rotate(-90)`},g);
  
  
  if(p.r>0){
    const xt=txt(xTitles[p.c],{x:L+330,y:T+SIZE+108,'font-size':38,'font-weight':'bold','text-anchor':'middle',fill:'#111'},g);
    
    
  }
  if(p.c===0){
    const lt=txt(rowLetters[p.r],{x:18,y:T-34,'font-size':64,'font-weight':'bold',fill:'#111',style:'font-family:"Liberation Serif",serif'},g);
    
    
  }
});
</script>
</body></html>
